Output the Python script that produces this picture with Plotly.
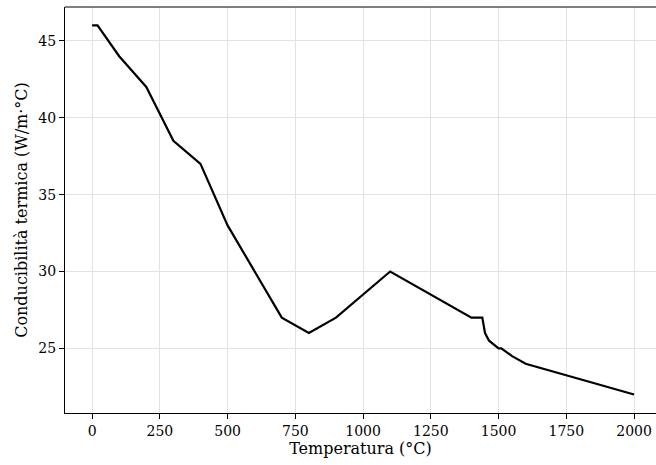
import plotly.graph_objects as go

temperature = [0, 20, 100, 200, 300, 400, 500, 700, 800, 900, 1100, 1400, 1440, 1450, 1465, 1500, 1510, 1550, 1600, 2000]
conductivity = [46, 46, 44, 42, 38.5, 37, 33, 27, 26, 27, 30, 27, 27, 26, 25.5, 25, 25, 24.5, 24, 22]

x_ticks = [0, 250, 500, 750, 1000, 1250, 1500, 1750, 2000]
y_ticks = [25, 30, 35, 40, 45]

font_family = "DejaVu Serif"

fig = go.Figure()
fig.add_trace(go.Scatter(
    x=temperature, y=conductivity, mode="lines",
    line=dict(color="black", width=2.2),
    showlegend=False,
))

fig.update_layout(
    width=656, height=465,
    margin=dict(l=65, r=0, t=7, b=52),
    paper_bgcolor="white", plot_bgcolor="white",
    font=dict(family=font_family, size=14, color="black"),
    xaxis=dict(
        range=[-100, 2081],
        tickvals=x_ticks,
        ticks="outside", ticklen=5, tickwidth=1, tickcolor="black",
        showline=True, linecolor="black", linewidth=1,
        showgrid=True, gridcolor="#e2e2e2", gridwidth=1,
        zeroline=False,
        ticklabeloverflow="allow",
        title=dict(text="Temperatura (°C)", font=dict(size=16), standoff=4),
        tickfont=dict(size=14),
    ),
    yaxis=dict(
        range=[20.8, 47.2],
        tickvals=y_ticks,
        ticks="outside", ticklen=5, tickwidth=1, tickcolor="black",
        showline=True, linecolor="black", linewidth=1,
        showgrid=True, gridcolor="#e2e2e2", gridwidth=1,
        zeroline=False,
        title=dict(text="Conducibilità termica (W/m·°C)", font=dict(size=16), standoff=6),
        tickfont=dict(size=14),
    ),
    shapes=[dict(type="line", xref="paper", yref="paper", x0=0, x1=1, y0=1, y1=1,
                 line=dict(color="black", width=1.2))],
)

fig.write_html(
    "out.html",
    config={"displayModeBar": False},
    post_script="document.body.style.margin='0';document.body.style.overflow='hidden';",
)
